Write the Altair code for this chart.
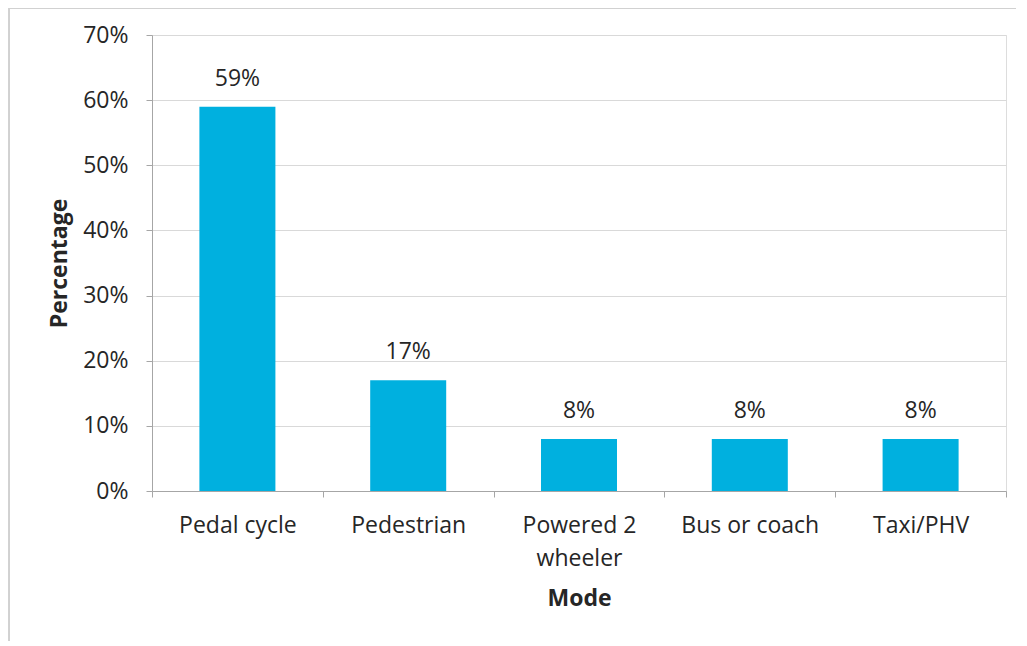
import altair as alt
import pandas as pd

modes = ["Pedal cycle", "Pedestrian", "Powered 2 wheeler", "Bus or coach", "Taxi/PHV"]
values = [0.59, 0.17, 0.08, 0.08, 0.08]
labels = ["59%", "17%", "8%", "8%", "8%"]

df = pd.DataFrame({"Mode": modes, "Percentage": values, "Label": labels})

FONT = "Open Sans"
FS = 23
TXT = "#262626"

x = alt.X("Mode:N", sort=modes,
          scale=alt.Scale(paddingInner=0, paddingOuter=0),
          axis=alt.Axis(title="Mode", labelAngle=0, tickBand="extent",
                        labelExpr="datum.label == 'Powered 2 wheeler' ? ['Powered 2', 'wheeler'] : datum.label",
                        labelFontSize=FS, labelPadding=17, labelLineHeight=33,
                        titleFontSize=FS, titleFontWeight="bold", titlePadding=17,
                        domainColor="#a6a6a6", tickColor="#a6a6a6", tickSize=6,
                        grid=False, labelColor=TXT, titleColor=TXT, labelFont=FONT, titleFont=FONT))
y = alt.Y("Percentage:Q",
          scale=alt.Scale(domain=[0, 0.7], nice=False),
          axis=alt.Axis(title="Percentage", format=".0%", values=[0, .1, .2, .3, .4, .5, .6, .7],
                        labelFontSize=FS, labelPadding=18, tickSize=6,
                        titleFontSize=FS, titleFontWeight="bold", titlePadding=11,
                        domainColor="#a6a6a6", tickColor="#a6a6a6",
                        gridColor="#d9d9d9", labelColor=TXT, titleColor=TXT,
                        labelFont=FONT, titleFont=FONT))

bars = alt.Chart(df).mark_bar(color="#00B0DF", width=alt.RelativeBandSize(0.445)).encode(x=x, y=y)
text = alt.Chart(df).mark_text(dy=-28, fontSize=FS, font=FONT, color=TXT).encode(
    x=alt.X("Mode:N", sort=modes), y="Percentage:Q", text="Label:N")

border_left = alt.Chart(df).mark_rule(color="#d0d0d0").encode(
    x=alt.value(-143), y=alt.value(-27), y2=alt.value(620))
border_top = alt.Chart(df).mark_rule(color="#d0d0d0").encode(
    x=alt.value(-143), x2=alt.value(870), y=alt.value(-27))

chart = alt.layer(border_left, border_top, bars, text).properties(
    width=854, height=456,
    autosize=alt.AutoSizeParams(type="none"),
    padding={"left": 144, "top": 27, "right": 10, "bottom": 150},
).configure_view(stroke=None).configure(background="white")

chart.save("out.html", embed_options={"renderer": "svg", "actions": False})
